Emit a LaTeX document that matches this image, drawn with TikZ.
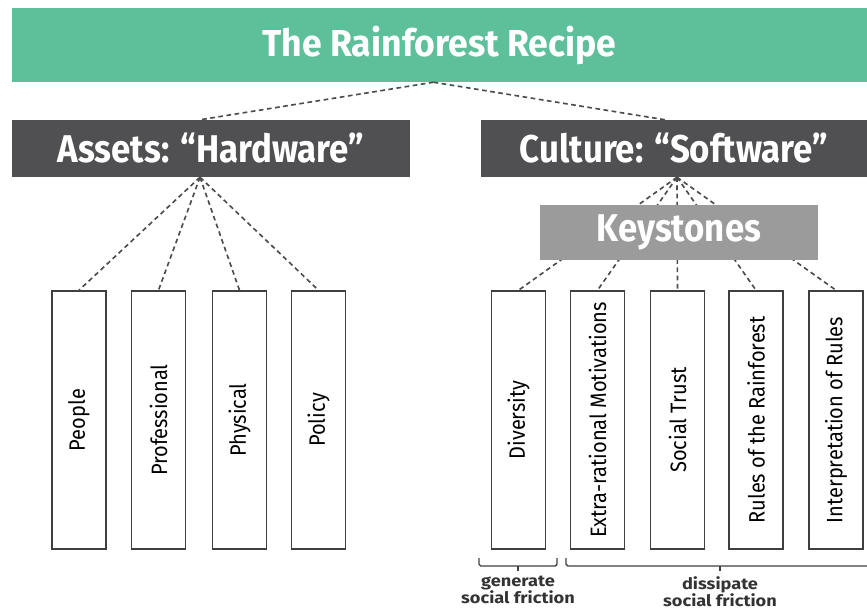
\documentclass[tikz,border=0pt]{standalone}
\usepackage{fontspec}
\setmainfont{Fira Sans}[FakeStretch=0.9]
\newfontfamily\titlefont{Fira Sans}[FakeStretch=0.95]
\newfontfamily\notefont{Fira Sans}[FakeStretch=1.15]
\usepackage{tikz}
\usetikzlibrary{
  calc
}
\tikzset{
  every banner/.style={inner sep=0pt,text=white,font=\bfseries},
  every pillar/.style={draw=black!75,line width=1.3pt,fill=white,
    minimum width=1.62cm,minimum height=7.74cm,inner sep=0pt},
  every link/.style={draw=black!70,line width=1.4pt,dash pattern=on 4pt off 3pt},
  every bracket/.style={draw=black!75,line width=1.2pt,rounded corners=1.5pt},
  every note/.style={font=\notefont\fontsize{13.5}{14.5}\selectfont\bfseries,
    align=center,text=black!80,inner sep=0pt},
}
\colorlet{recipe}{rgb,255:red,94;green,192;blue,154}
\colorlet{hardware}{rgb,255:red,80;green,80;blue,82}
\colorlet{keystone}{rgb,255:red,155;green,155;blue,155}

\begin{document}
\begin{tikzpicture}[x=0.03cm,y=-0.03cm]
\useasboundingbox (0,0) rectangle (867,612);
% top and second row
\node[every banner,fill=recipe,minimum width=25.65cm,minimum height=2.22cm,
  font=\titlefont\fontsize{32}{36}\selectfont\bfseries] (recipe) at (439.5,45) {The Rainforest Recipe};
\node[every banner,fill=hardware,minimum width=11.94cm,minimum height=1.71cm,
  font=\fontsize{33}{37}\selectfont\bfseries] (assets) at (211,148.5) {Assets: “Hardware”};
\node[every banner,fill=hardware,minimum width=11.58cm,minimum height=1.71cm,
  font=\fontsize{33}{37}\selectfont\bfseries] (culture) at (674,148.5) {Culture: “Software”};
\coordinate (assets top) at ($(assets.north)+(-11,0)$);
\coordinate (assets foot) at ($(assets.south)+(-11,0)$);
\coordinate (culture top) at ($(culture.north)+(-9,0)$);
\coordinate (culture foot) at ($(culture.south)+(3,0)$);
\draw[every link] (recipe.south) ++(-6,0) coordinate (apex) -- (assets top);
\draw[every link] (apex) -- (culture top);
% pillars
\foreach \name/\x/\txt in {people/79/People, professional/158.5/Professional,
  physical/239.5/Physical, policy/318.5/Policy}
{
  \node[every pillar] (\name) at (\x,420) {};
  \node[rotate=90,font=\fontsize{19}{21}\selectfont] at (\name.center) {\txt};
  \draw[every link] (assets foot) -- (\name.north);
}
\foreach \name/\x/\txt in {diversity/518.5/Diversity,
  motivations/597.5/Extra-rational Motivations, trust/677.5/Social Trust,
  rules/756/Rules of the Rainforest, interpretation/836/Interpretation of Rules}
{
  \node[every pillar] (\name) at (\x,420) {};
  \node[rotate=90,font=\fontsize{19}{21}\selectfont] at (\name.center) {\txt};
  \draw[every link] (culture foot) -- (\name.north);
}
\node[every banner,fill=keystone,minimum width=8.34cm,minimum height=1.65cm,
  font=\fontsize{33}{37}\selectfont\bfseries] (keystones) at (679,232.5) {Keystones};
% brackets under the pillars
\draw[every bracket] (479,558) -- (479,566) -- (557,566) -- (557,558);
\draw[every bracket] (518,566) -- (518,571);
\draw[every bracket] (566,558) -- (566,566) -- (880,566);
\draw[every bracket] (720,566) -- (720,571);
\node[every note,anchor=north] (generate) at (518,576) {generate\\social friction};
\node[every note,anchor=north] (dissipate) at (720,576) {dissipate\\social friction};
\end{tikzpicture}
\end{document}
